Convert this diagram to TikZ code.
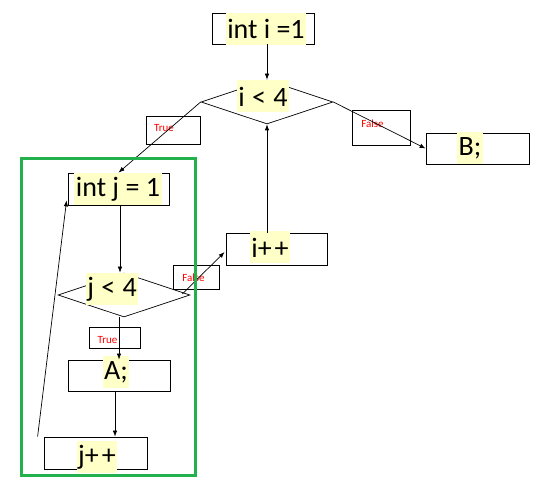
\documentclass[tikz,border=0pt]{standalone}
\usepackage{fontspec}
\setmainfont{Carlito}
\usetikzlibrary{shapes.geometric,arrows.meta}
\definecolor{hl}{RGB}{255,255,200}
\definecolor{grn}{RGB}{34,177,76}
\begin{document}
\begin{tikzpicture}[x=1pt,y=-1pt,
  box/.style={draw,rectangle,inner sep=0pt,line width=0.8pt,minimum height=31pt},
  cond/.style={draw,diamond,inner sep=0pt,line width=0.7pt,minimum width=132pt,minimum height=44pt},
  code/.style={fill=hl,inner xsep=1.5pt,inner ysep=0pt,minimum height=32pt,font=\fontsize{28}{28}\selectfont},
  lab/.style={draw,rectangle,inner sep=0pt,line width=0.7pt},
  labtxt/.style={text=red,inner sep=0pt,font=\fontsize{11}{12}\selectfont},
  arr/.style={-{Latex[length=6pt,width=4.5pt]},line width=0.7pt},
  ln/.style={line width=0.7pt}]
\useasboundingbox (0,0) rectangle (541,481);
% boxes
\node[box,minimum width=102pt] (ii) at (263,28.5) {};
\node[cond] (ic) at (267,102) {};
\node[box,minimum width=103pt] (B) at (477.5,148.5) {};
\node[box,minimum width=101pt,minimum height=32pt] (ij) at (118.5,189) {};
\node[cond] (jc) at (124,295) {};
\node[box,minimum width=102pt] (A) at (119,375.5) {};
\node[box,minimum width=103pt,minimum height=32pt] (jpp) at (95.5,453) {};
\node[box,minimum width=101pt,minimum height=32pt] (ipp) at (276.5,249) {};
% code texts
\node[code] (tii) at (266,29) {int i =1};
\node[code] (tic) at (263,96.5) {i\kern1pt{} < \kern1pt4};
\node[code] (tB) at (470,148.5) {B;};
\node[code] (tij) at (118,189.5) {int j = 1};
\node[code] (tjc) at (112,289) {j\kern1pt{} < \kern1pt4};
\node[code] (tA) at (116,372) {A;};
\node[code] (tjpp) at (97,457) {j+\kern3pt+};
\node[code] (tipp) at (270,247.5) {i+\kern3pt+};
% label boxes
\node[lab,minimum width=54pt,minimum height=28pt] (lt1) at (173,130) {};
\node[labtxt] (tt1) at (164,128) {True};
\node[lab,minimum width=58pt,minimum height=35pt] (lf1) at (381,127.5) {};
\node[labtxt] (tf1) at (372.5,124) {False};
\node[lab,minimum width=51pt,minimum height=21pt] (lt2) at (114.5,337.5) {};
\node[labtxt] (tt2) at (107.5,340) {True};
\node[lab,minimum width=46pt,minimum height=24pt] (lf2) at (196,277) {};
\node[labtxt] (tf2) at (193.5,278) {False};
% connectors
\draw[arr] (ii.south -| ic.north) -- (ic.north);
\draw[arr] (ic.west) -- (ij.north);
\draw[arr] (ic.east) -- (B.west);
\draw[arr] (ij.south -| 120,0) -- (jc.north -| 120,0);
\draw[arr] (jc.south -| 119,0) -- (A.north -| 119,0);
\draw[arr] (A.south -| 115,0) -- (jpp.north -| 115,0);
\draw[arr] ([xshift=-6pt]jpp.north west) -- ([yshift=5pt,xshift=-1pt]ij.south west);
\draw[arr] ([xshift=-8pt,yshift=1pt]jc.east) -- ([yshift=-3pt,xshift=-1pt]ipp.west);
\draw[arr] (ipp.north -| ic.south) -- (ic.south);
% green frame
\draw[grn,line width=3pt] (21,159) rectangle (195,475);
\end{tikzpicture}
\end{document}
